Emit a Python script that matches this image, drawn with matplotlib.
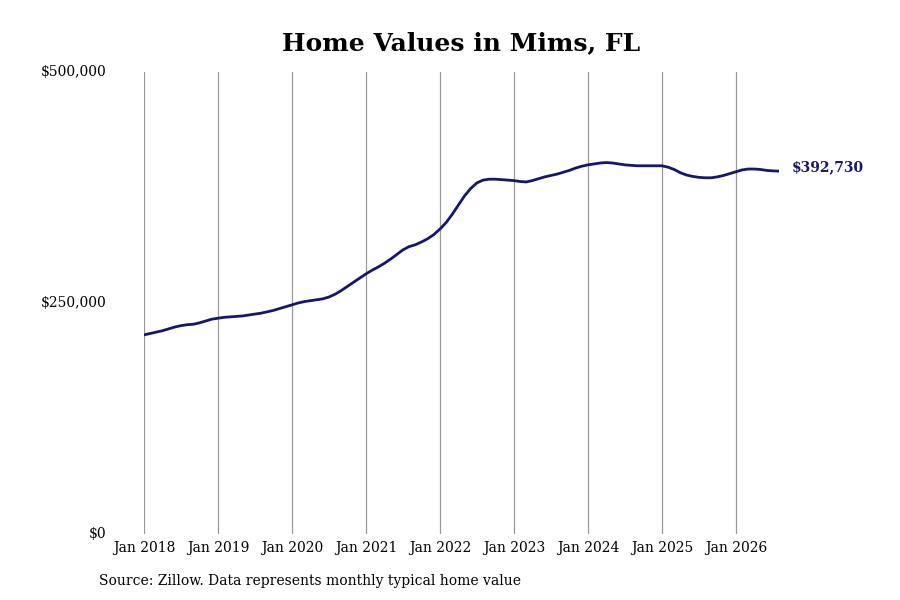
import matplotlib
matplotlib.use("Agg")
import matplotlib.pyplot as plt
import numpy as np

plt.rcParams['font.family'] = ['DejaVu Serif']

# Monthly typical home value (thousands USD), Jan 2018 .. Aug 2026
values_2018 = [215.5, 217, 218.5, 220, 222, 224, 225.5, 226.5, 227, 228.5, 230.5, 232.5]
values_2019 = [233.5, 234.5, 235, 235.5, 236, 237, 238, 239, 240.5, 242, 244, 246]
values_2020 = [248, 250, 251.5, 252.5, 253.5, 254.5, 256.5, 259.5, 263.5, 268, 272.5, 277]
values_2021 = [281.5, 285.5, 289, 293, 297.5, 302.5, 307.5, 311, 313, 316, 319.5, 324]
values_2022 = [330, 337, 346, 356, 366, 374, 380, 383, 384, 384, 383.5, 383]
values_2023 = [382.5, 381.5, 381, 382.5, 384.5, 386.5, 388, 389.5, 391.5, 393.5, 396, 398]
values_2024 = [399.5, 400.5, 401.5, 402, 401.5, 400.5, 399.5, 399, 398.5, 398.5, 398.5, 398.5]
values_2025 = [398.5, 397, 394.5, 391, 388.5, 387, 386, 385.5, 385.5, 386.5, 388, 390]
values_2026 = [392, 394, 395, 395, 394.5, 393.5, 393, 392.73]

values = np.array(values_2018 + values_2019 + values_2020 + values_2021 + values_2022
                  + values_2023 + values_2024 + values_2025 + values_2026) * 1000
months = np.arange(len(values))

tick_labels = ["Jan 2018", "Jan 2019", "Jan 2020", "Jan 2021", "Jan 2022",
               "Jan 2023", "Jan 2024", "Jan 2025", "Jan 2026"]
tick_pos = [12 * i for i in range(len(tick_labels))]
y_ticks = [0, 250000, 500000]
y_labels = ["$0", "$250,000", "$500,000"]
last_label = "$392,730"

fig = plt.figure(figsize=(9, 6), dpi=100)
ax = fig.add_axes([144/900, 66/600, (779-144)/900, (534-72)/600])

line_color = "#16166b"
ax.plot(months, values, color=line_color, lw=2.0, solid_capstyle='round')

ax.set_xlim(0, len(values) - 1)
ax.set_ylim(0, 500000)
ax.set_xticks(tick_pos)
ax.set_xticklabels(tick_labels, fontsize=10)
ax.set_yticks(y_ticks)
ax.set_yticklabels(y_labels, fontsize=10)
ax.tick_params(axis='x', length=0, pad=5)
ax.tick_params(axis='y', length=0, pad=27)
for lbl in ax.get_yticklabels():
    lbl.set_verticalalignment('center')
ax.grid(axis='x', color="#999999", lw=0.9)
ax.grid(axis='y', visible=False)
for s in ax.spines.values():
    s.set_visible(False)

ax.annotate(last_label, xy=(months[-1], values[-1]), xytext=(9, 3),
            textcoords='offset points', fontsize=10, fontweight='bold',
            color=line_color, va='center', ha='left', annotation_clip=False)

fig.text(0.512, 1 - 43/600, "Home Values in Mims, FL", ha='center', va='center',
         fontsize=18, fontweight='bold')
fig.text(99/900, 1 - 581/600, "Source: Zillow. Data represents monthly typical home value",
         ha='left', va='center', fontsize=10)

fig.savefig("out.png", dpi=100)
